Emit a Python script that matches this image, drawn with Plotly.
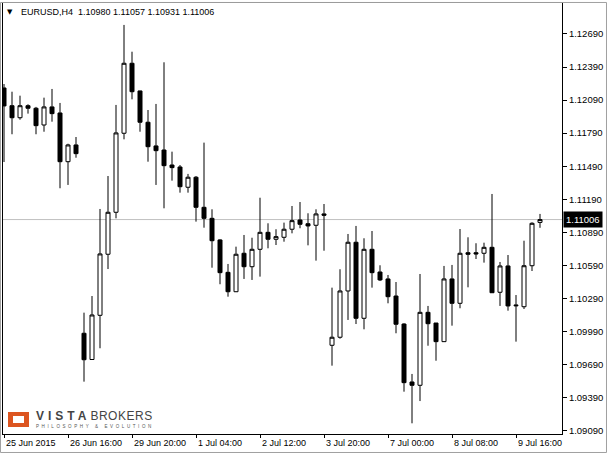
import plotly.graph_objects as go

# EURUSD H4 candles, bar 0 = 25 Jun 2015 08:00 (Sunday bars on 28 Jun and 5 Jul)
opens = [1.12200, 1.12039, 1.11930, 1.12039, 1.12016, 1.11864, 1.12028, 1.11973, 1.11531, 1.11683,
         1.09974, 1.09736, 1.10137, 1.10691, 1.11072, 1.11789, 1.12424, 1.12173, 1.11889, 1.11674,
         1.11637, 1.11501, 1.11483, 1.11299, 1.11390, 1.11117, 1.11017, 1.10821, 1.10527, 1.10351,
         1.10700, 1.10578, 1.10736, 1.10890, 1.10827, 1.10845, 1.10918, 1.11002, 1.10968, 1.10954,
         1.11057, 1.09865, 1.09938, 1.10358, 1.10800, 1.10110, 1.10736, 1.10530, 1.10467, 1.10312,
         1.10058, 1.09532, 1.09502, 1.10164, 1.10067, 1.09898, 1.10467, 1.10246, 1.10705, 1.10705,
         1.10700, 1.10754, 1.10346, 1.10585, 1.10231, 1.10215, 1.10587, 1.10980]
highs = [1.12236, 1.12166, 1.12130, 1.12052, 1.12028, 1.12112, 1.12191, 1.12064, 1.11694, 1.11755,
         1.10161, 1.10312, 1.11102, 1.11401, 1.12046, 1.12772, 1.12529, 1.12175, 1.12000, 1.12055,
         1.12433, 1.11622, 1.11501, 1.11420, 1.11401, 1.11704, 1.11099, 1.10827, 1.10603, 1.10760,
         1.10866, 1.10841, 1.11204, 1.10972, 1.10918, 1.10978, 1.11129, 1.11165, 1.11063, 1.11099,
         1.11147, 1.10388, 1.10555, 1.10875, 1.10948, 1.10836, 1.10902, 1.10591, 1.10503, 1.10439,
         1.10065, 1.09605, 1.10512, 1.10222, 1.10067, 1.10585, 1.10594, 1.10920, 1.10845, 1.10791,
         1.10796, 1.11238, 1.10621, 1.10684, 1.10321, 1.10814, 1.10981, 1.11057]
lows = [1.11528, 1.11780, 1.11912, 1.11967, 1.11780, 1.11803, 1.11894, 1.11290, 1.11320, 1.11567,
        1.09535, 1.09732, 1.09838, 1.10557, 1.11017, 1.11734, 1.12097, 1.11803, 1.11531, 1.11320,
        1.11108, 1.11359, 1.11250, 1.11250, 1.10987, 1.10932, 1.10569, 1.10419, 1.10306, 1.10348,
        1.10467, 1.10458, 1.10488, 1.10745, 1.10775, 1.10805, 1.10881, 1.10927, 1.10772, 1.10633,
        1.10723, 1.09680, 1.09925, 1.10095, 1.10058, 1.10010, 1.10388, 1.10448, 1.10246, 1.09974,
        1.09444, 1.09157, 1.09359, 1.09861, 1.09725, 1.09895, 1.10043, 1.10201, 1.10391, 1.10648,
        1.10615, 1.10340, 1.10222, 1.10179, 1.09898, 1.10194, 1.10539, 1.10931]
closes = [1.12037, 1.11930, 1.12039, 1.12016, 1.11858, 1.12028, 1.11967, 1.11531, 1.11683, 1.11604,
          1.09734, 1.10140, 1.10694, 1.11072, 1.11792, 1.12424, 1.12166, 1.11889, 1.11667, 1.11631,
          1.11495, 1.11477, 1.11304, 1.11390, 1.11117, 1.11017, 1.10814, 1.10524, 1.10351, 1.10691,
          1.10578, 1.10736, 1.10890, 1.10827, 1.10851, 1.10918, 1.10996, 1.10963, 1.10948, 1.11057,
          1.11045, 1.09938, 1.10358, 1.10800, 1.10110, 1.10736, 1.10524, 1.10458, 1.10306, 1.10056,
          1.09526, 1.09502, 1.10164, 1.10061, 1.09898, 1.10467, 1.10246, 1.10700, 1.10691, 1.10694,
          1.10754, 1.10342, 1.10585, 1.10222, 1.10224, 1.10587, 1.10972, 1.11006]

last_price = 1.11006
time_tick_pos = [0, 8, 16, 24, 32, 40, 48, 56, 64]
time_tick_text = ["25 Jun 2015", "26 Jun 16:00", "29 Jun 20:00", "1 Jul 04:00", "2 Jul 12:00",
                  "3 Jul 20:00", "7 Jul 00:00", "8 Jul 08:00", "9 Jul 16:00"]
price_ticks = [1.09090, 1.09390, 1.09690, 1.09990, 1.10290, 1.10590, 1.10890,
               1.11190, 1.11490, 1.11790, 1.12090, 1.12390, 1.12690]

bars = list(range(len(opens)))
font = 'Liberation Sans'

fig = go.Figure(go.Candlestick(
    x=bars, open=opens, high=highs, low=lows, close=closes,
    increasing=dict(fillcolor='white', line=dict(color='black', width=1)),
    decreasing=dict(fillcolor='black', line=dict(color='black', width=1)),
    whiskerwidth=0, hoverinfo='skip', showlegend=False,
))

fig.update_layout(
    width=607, height=453,
    margin=dict(l=3, r=45, t=3, b=19, autoexpand=False),
    paper_bgcolor='white', plot_bgcolor='white',
    boxgap=0.5, boxgroupgap=0,
    xaxis=dict(
        range=[-0.125, 69.75], rangeslider=dict(visible=False),
        showgrid=False, zeroline=False,
        showline=True, linecolor='black', linewidth=1, mirror=True,
        tickmode='array', tickvals=time_tick_pos,
        ticks='outside', ticklen=3, tickcolor='black',
        showticklabels=False,
    ),
    yaxis=dict(
        range=[1.09060, 1.12971], side='right',
        showgrid=False, zeroline=False,
        showline=True, linecolor='black', linewidth=1, mirror=True,
        tickmode='array', tickvals=price_ticks, tickformat='.5f',
        ticks='outside', ticklen=4, tickcolor='black',
        tickfont=dict(family=font, size=9.5, color='black'),
    ),
)

# current price line
fig.add_shape(type='line', xref='paper', x0=0, x1=1, yref='y', y0=last_price, y1=last_price,
              line=dict(color='#c0c0c0', width=1), layer='below')

# window frame
fig.add_shape(type='rect', xref='paper', yref='paper', x0=-0.0045, x1=1.0796, y0=-0.0429, y1=1.0012,
              line=dict(color='#a0a0a0', width=1))

# logo
fig.add_shape(type='rect', xref='paper', yref='paper', x0=0.0089, x1=0.0465, y0=0.0162, y1=0.0510,
              line=dict(width=0), fillcolor='#dc5520')
fig.add_shape(type='rect', xref='paper', yref='paper', x0=0.0179, x1=0.0376, y0=0.0255, y1=0.0418,
              line=dict(width=0), fillcolor='white')

annotations = []
# time labels sit to the right of their tick, MT4 style
for pos, label in zip(time_tick_pos, time_tick_text):
    annotations.append(dict(xref='x', yref='paper', x=pos, y=-0.021, xanchor='left', yanchor='middle',
                            text=label, font=dict(family=font, size=9, color='black'), showarrow=False))
annotations.append(dict(xref='paper', yref='y', x=1, y=last_price, xanchor='left', yanchor='middle',
                        xshift=1, text='%.5f' % last_price, bgcolor='black', borderpad=2,
                        font=dict(family=font, size=9.5, color='white'), showarrow=False))
annotations.append(dict(xref='paper', yref='paper', x=0.0125, y=0.9791, xanchor='center', yanchor='middle',
                        text='▼', font=dict(family='DejaVu Sans', size=7, color='black'), showarrow=False))
annotations.append(dict(xref='paper', yref='paper', x=0.0286, y=0.9791, xanchor='left', yanchor='middle',
                        text='%s&nbsp; %.5f %.5f %.5f %.5f' % ("EURUSD,H4", opens[-1], highs[-1], lows[-1], closes[-1]),
                        font=dict(family=font, size=9, color='black'), showarrow=False))
annotations.append(dict(xref='paper', yref='paper', x=0.0573, y=0.0408, xanchor='left', yanchor='middle',
                        text='<b><span style="letter-spacing:4px">VISTA</span></b>'
                             '<span style="letter-spacing:0.5px">BROKERS</span>',
                        borderpad=0, font=dict(family=font, size=12, color='#444444'), showarrow=False))
annotations.append(dict(xref='paper', yref='paper', x=0.0573, y=0.0180, xanchor='left', yanchor='middle',
                        text='<span style="letter-spacing:2.6px">PHILOSOPHY &amp; EVOLUTION</span>',
                        borderpad=0, font=dict(family=font, size=4.5, color='#555555'), showarrow=False))
fig.update_layout(annotations=annotations)

# page body has a default 8px margin; drop it so the figure sits at the window corner
fig.write_html("out.html", config={'displayModeBar': False},
               post_script="document.body.style.margin='0px';")
